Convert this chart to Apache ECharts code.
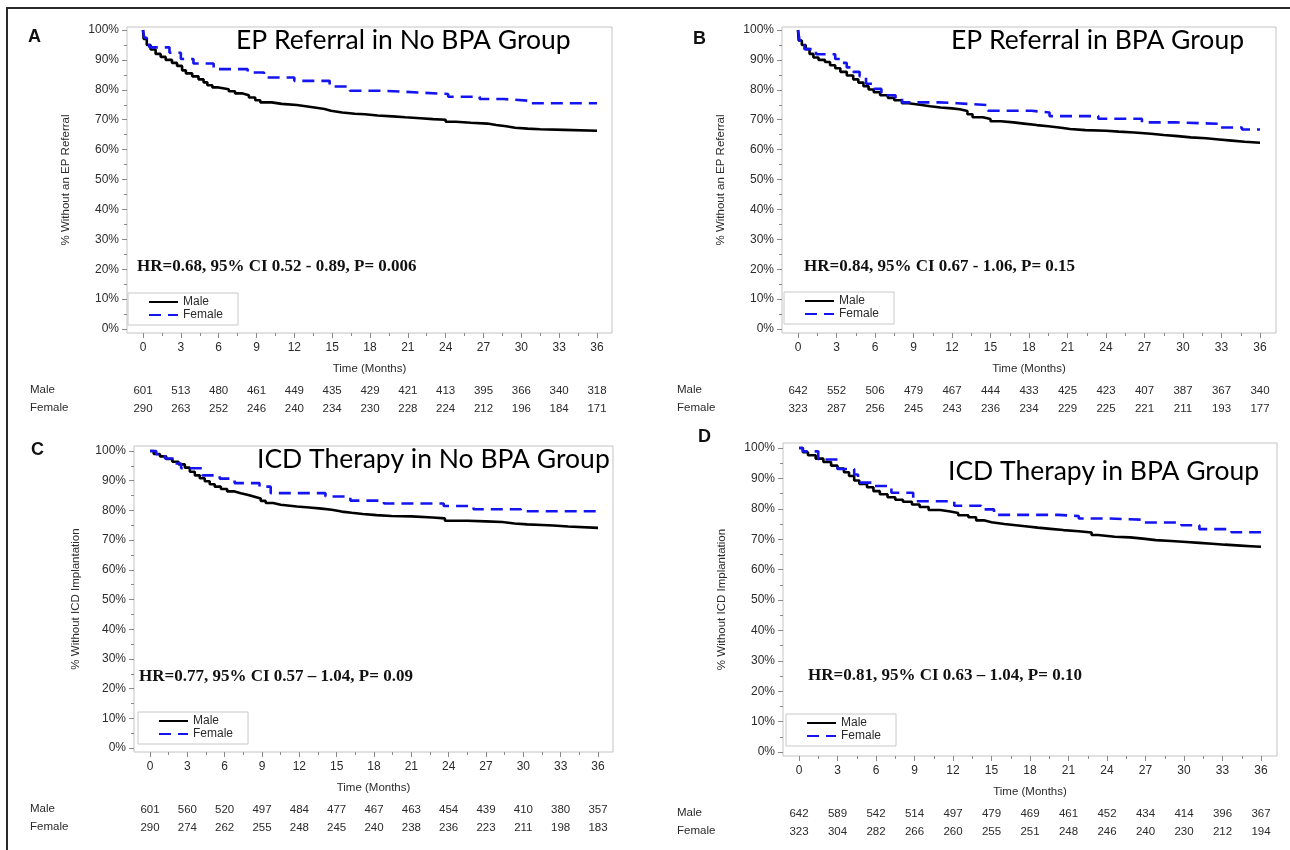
<!DOCTYPE html>
<html>
<head>
<meta charset="utf-8">
<script src="https://cdn.jsdelivr.net/npm/echarts@6/dist/echarts.min.js"></script>
<style>
  html, body { margin: 0; padding: 0; background: #ffffff; }
  #chart { width: 1290px; height: 850px; }
</style>
</head>
<body>
<div id="chart"></div>
<script>
// ---- Tick labels ----
const monthTicks = [0, 3, 6, 9, 12, 15, 18, 21, 24, 27, 30, 33, 36];
const pctTicks = [0, 10, 20, 30, 40, 50, 60, 70, 80, 90, 100];

// ---- Kaplan-Meier estimates: [month, % event-free] ----
const epNoBpaMale = [[0,100],[0.05,97],[0.3,95],[0.6,93.5],[1,92],[1.4,91],[1.8,90],[2.3,89],[2.7,88],[3.1,86.5],[3.4,85.5],[3.9,84.5],[4.4,83.5],[4.8,82.5],[5.1,81.5],[5.5,80.8],[6,80.2],[6.8,79.5],[7.3,78.8],[7.9,78.2],[8.4,77.4],[8.9,76.5],[9.3,75.8],[10.2,75.3],[11,74.9],[12.2,74.5],[12.9,74.1],[13.6,73.6],[14.4,73],[14.9,72.4],[15.8,72],[16.8,71.8],[17.6,71.4],[18.6,71.1],[19.8,70.8],[20.8,70.5],[22,70.2],[23,70],[24,69.3],[24.8,69],[26,68.7],[27.3,68.2],[28,67.8],[28.8,67.3],[29.5,67],[30.5,66.8],[31.5,66.6],[33.4,66.3],[36,66.2]];
const epNoBpaFemale = [[0,100],[0.1,97.4],[0.3,96],[0.5,94.2],[2.1,92.4],[3,90.3],[4,88.8],[5.6,86.9],[8.3,85.8],[9.6,84.1],[12,83],[14.8,81.1],[16.4,79.7],[19,79.1],[21.8,78.6],[24.2,77.7],[26.7,76.9],[28.6,76.3],[30.8,75.5],[36,75.5]];

const epBpaMale = [[0,100],[0.05,96.5],[0.3,95],[0.6,93.6],[0.9,92],[1.2,90.8],[1.6,90],[2.1,89.3],[2.5,88.2],[2.9,87.2],[3.3,86],[3.8,84.8],[4.3,83.5],[4.7,82.4],[5.1,81.2],[5.5,80.1],[5.9,79.2],[6.4,78.2],[7,77.3],[7.5,76.5],[8.1,75.5],[8.6,75],[9.5,74.5],[10.3,74.1],[11.1,73.8],[12,73.5],[12.6,72.9],[13.2,71.8],[13.6,70.8],[14.4,70.2],[15,69.5],[15.8,69.1],[16.8,68.7],[17.6,68.2],[18.6,67.8],[19.5,67.3],[20.5,66.9],[21.2,66.5],[22.4,66.3],[24,66],[25,65.7],[26.2,65.3],[27.5,64.9],[28.5,64.5],[29.6,64.1],[30.6,63.8],[31.8,63.4],[32.8,63],[33.8,62.6],[34.8,62.3],[36,62.2]];
const epBpaFemale = [[0,100],[0.15,95.8],[0.5,93.6],[1.4,91.9],[2.9,90.3],[3.3,89],[3.8,87.5],[4.3,86],[4.8,84.5],[5.3,82],[5.9,80.3],[6.5,78.2],[7.6,77],[8.1,75.8],[11,75.5],[12.4,74.9],[14.8,73],[18.2,72.4],[19.6,71.2],[23.4,70.3],[26.8,69.1],[29.4,68.6],[32.9,67.4],[34.6,66.7],[36,66.7]];

const icdNoBpaMale = [[0,100],[0.3,99],[0.8,98.2],[1.3,97.3],[1.8,96.4],[2.3,95.5],[2.8,94.4],[3.2,93],[3.6,91.8],[4,90.8],[4.4,89.8],[4.8,88.8],[5.2,88],[5.7,87.2],[6.2,86.4],[6.8,85.8],[7.3,85.2],[7.9,84.6],[8.4,84],[8.9,83.2],[9.3,82.5],[9.9,81.9],[10.5,81.3],[11.8,81],[12.8,80.6],[13.8,80.2],[14.6,79.6],[15.4,79.2],[16.2,78.8],[17.1,78.4],[18.2,78.1],[19.4,78],[21,77.6],[22.7,77.3],[23.7,76.5],[25.5,76.3],[27,76.1],[28.3,75.6],[29.3,75.3],[30.3,75.1],[31.5,74.9],[32.4,74.6],[33.6,74.1],[36,73.9]];
const icdNoBpaFemale = [[0,100],[0.5,98.9],[1.2,97.5],[1.9,95.8],[2.5,94.2],[4.2,91.8],[5.6,90.7],[6.8,89.2],[8.8,88],[9.7,85.8],[14.1,84.7],[16.1,83.3],[18.8,82.3],[23.6,81.5],[26,80.4],[29.8,79.7],[36,79.6]];

const icdBpaMale = [[0,100],[0.3,98.6],[0.7,97.6],[1.3,96.5],[1.9,95.4],[2.5,94.2],[3,93.2],[3.5,92],[3.9,90.8],[4.3,89.3],[4.7,88.2],[5.3,87.1],[5.8,85.8],[6.3,84.8],[6.9,83.8],[7.5,83],[8.1,82.3],[8.8,81.4],[9.4,80.6],[10.1,79.6],[11,79.1],[11.8,78.6],[12.4,77.9],[13.2,77.2],[13.8,76.2],[14.4,75.6],[15,75],[16,74.6],[16.9,74.2],[17.8,73.8],[18.6,73.4],[19.6,73],[20.6,72.6],[21.8,72.2],[22.8,71.4],[23.3,70.8],[24.6,70.6],[25.8,70.2],[26.8,69.7],[27.8,69.4],[29,69.1],[30.2,68.8],[31.2,68.5],[32.2,68.2],[33.2,67.9],[34.4,67.7],[35.2,67.5],[36,67.5]];
const icdBpaFemale = [[0,100],[0.3,98.9],[1.5,96.2],[3,93.1],[4.3,91.3],[4.6,88.6],[5.7,87.5],[7.2,85.3],[8.9,82.5],[12.1,81],[14.2,79.8],[15.2,78],[20.2,77.6],[21.8,76.8],[24.2,76.4],[26.8,75.5],[29.8,74.6],[31.2,73.3],[33.7,72.3],[36,72.3]];

// ---- Numbers at risk ----
const epNoBpaMaleRisk   = [601, 513, 480, 461, 449, 435, 429, 421, 413, 395, 366, 340, 318];
const epNoBpaFemaleRisk = [290, 263, 252, 246, 240, 234, 230, 228, 224, 212, 196, 184, 171];
const epBpaMaleRisk     = [642, 552, 506, 479, 467, 444, 433, 425, 423, 407, 387, 367, 340];
const epBpaFemaleRisk   = [323, 287, 256, 245, 243, 236, 234, 229, 225, 221, 211, 193, 177];
const icdNoBpaMaleRisk   = [601, 560, 520, 497, 484, 477, 467, 463, 454, 439, 410, 380, 357];
const icdNoBpaFemaleRisk = [290, 274, 262, 255, 248, 245, 240, 238, 236, 223, 211, 198, 183];
const icdBpaMaleRisk     = [642, 589, 542, 514, 497, 479, 469, 461, 452, 434, 414, 396, 367];
const icdBpaFemaleRisk   = [323, 304, 282, 266, 260, 255, 251, 248, 246, 240, 230, 212, 194];

// ---- Panel texts ----
const panelLetters = ['A', 'B', 'C', 'D'];
const panelTitles = ['EP Referral in No BPA Group', 'EP Referral in BPA Group',
                     'ICD Therapy in No BPA Group', 'ICD Therapy in BPA Group'];
const yAxisTitles = ['% Without an EP Referral', '% Without an EP Referral',
                     '% Without ICD Implantation', '% Without ICD Implantation'];
const hrTexts = ['HR=0.68, 95% CI 0.52 - 0.89, P= 0.006',
                 'HR=0.84, 95% CI 0.67 - 1.06, P= 0.15',
                 'HR=0.77, 95% CI 0.57 \u2013 1.04, P= 0.09',
                 'HR=0.81, 95% CI 0.63 \u2013 1.04, P= 0.10'];
const groupNames = ['Male', 'Female'];

const panelData = [
  { male: epNoBpaMale,  female: epNoBpaFemale,  maleRisk: epNoBpaMaleRisk,  femaleRisk: epNoBpaFemaleRisk },
  { male: epBpaMale,    female: epBpaFemale,    maleRisk: epBpaMaleRisk,    femaleRisk: epBpaFemaleRisk },
  { male: icdNoBpaMale, female: icdNoBpaFemale, maleRisk: icdNoBpaMaleRisk, femaleRisk: icdNoBpaFemaleRisk },
  { male: icdBpaMale,   female: icdBpaFemale,   maleRisk: icdBpaMaleRisk,   femaleRisk: icdBpaFemaleRisk }
];

// ---- Layout (pixels) ----
// plot: where 0..36 months and 0..100 % fall; frame: the boxed plot area around it
const layout = [
  { plot: [143, 30, 597, 329], frame: [127, 27, 612, 333], letter: [35, 38], title: [236, 44],
    hr: [137, 268], legend: [128, 293], yName: 55, rowX: 30, rows: [391, 409] },
  { plot: [798, 30, 1260, 329], frame: [782, 27, 1276, 333], letter: [700, 40], title: [951, 44],
    hr: [804, 268], legend: [784, 292], yName: 55, rowX: 677, rows: [391, 409] },
  { plot: [150, 451, 598, 748], frame: [134, 446, 613, 752], letter: [38, 451], title: [257, 463],
    hr: [139, 678], legend: [138, 712], yName: 52, rowX: 30, rows: [810, 828] },
  { plot: [799, 448, 1261, 752], frame: [783, 443, 1277, 756], letter: [705, 438], title: [948, 475],
    hr: [808, 677], legend: [786, 714], yName: 55, rowX: 677, rows: [814, 832] }
];

const SANS = '"Liberation Sans", Arial, sans-serif';
const TICK_COLOR = '#8a8a8a';
const TEXT_COLOR = '#2b2b2b';
const MALE_COLOR = '#000000';
const FEMALE_COLOR = '#1414f0';

const midpoints = arr => arr.slice(1).map((v, k) => (v + arr[k]) / 2);
const monthMinor = midpoints(monthTicks);
const pctMinor = midpoints(pctTicks);

const grids = [], xAxes = [], yAxes = [], series = [], legends = [], graphics = [];

layout.forEach((L, i) => {
  const D = panelData[i];
  const [pl, pt, pr, pb] = L.plot;
  const [fl, ft, fr, fb] = L.frame;
  const xLo = monthTicks[0], xHi = monthTicks[monthTicks.length - 1];
  const yLo = pctTicks[0], yHi = pctTicks[pctTicks.length - 1];

  // axis extents padded so the data range sits inside the boxed frame
  const pxX = (pr - pl) / (xHi - xLo);
  const pxY = (pb - pt) / (yHi - yLo);
  const xMin = xLo - (pl - fl) / pxX, xMax = xHi + (fr - pr) / pxX;
  const yMin = yLo - (fb - pb) / pxY, yMax = yHi + (pt - ft) / pxY;

  const g = grids.length;
  grids.push({ left: fl, top: ft, width: fr - fl, height: fb - ft, show: true,
               borderColor: '#c4c4c4', borderWidth: 1, backgroundColor: 'transparent' });

  const baseX = { gridIndex: g, type: 'value', position: 'bottom', min: xMin, max: xMax,
                  axisLine: { show: false, onZero: false }, splitLine: { show: false } };
  const baseY = { gridIndex: g, type: 'value', position: 'left', min: yMin, max: yMax,
                  axisLine: { show: false, onZero: false }, splitLine: { show: false } };

  // major x ticks + labels + axis name
  const xIdx = xAxes.length;
  xAxes.push(Object.assign({}, baseX, {
    axisTick: { show: true, length: 5, customValues: monthTicks, lineStyle: { color: TICK_COLOR } },
    axisLabel: { margin: 9, fontSize: 12, fontFamily: SANS, color: TEXT_COLOR, customValues: monthTicks },
    name: 'Time (Months)', nameLocation: 'middle', nameGap: 30,
    nameTextStyle: { fontSize: 11.5, fontFamily: SANS, color: TEXT_COLOR }
  }));
  // minor x ticks
  xAxes.push(Object.assign({}, baseX, {
    axisTick: { show: true, length: 3, customValues: monthMinor, lineStyle: { color: TICK_COLOR } },
    axisLabel: { show: false }
  }));
  // numbers-at-risk rows as label-only axes
  [D.maleRisk, D.femaleRisk].forEach((risk, r) => {
    xAxes.push(Object.assign({}, baseX, {
      offset: L.rows[r] - fb,
      axisTick: { show: false },
      axisLabel: { margin: 0, verticalAlign: 'middle', fontSize: 11.5, fontFamily: SANS, color: TEXT_COLOR,
                   customValues: monthTicks, formatter: v => String(risk[monthTicks.indexOf(v)]) }
    }));
    graphics.push({ type: 'text', left: L.rowX, top: L.rows[r] - 7,
      style: { text: groupNames[r], font: '11.5px ' + SANS, fill: TEXT_COLOR } });
  });

  // major y ticks + labels + axis name
  const yIdx = yAxes.length;
  yAxes.push(Object.assign({}, baseY, {
    axisTick: { show: true, length: 5, customValues: pctTicks, lineStyle: { color: TICK_COLOR } },
    axisLabel: { margin: 8, fontSize: 12, fontFamily: SANS, color: TEXT_COLOR,
                 customValues: pctTicks, formatter: v => v + '%' },
    name: yAxisTitles[i], nameLocation: 'middle', nameRotate: 90, nameGap: L.yName,
    nameTextStyle: { fontSize: 11.5, fontFamily: SANS, color: TEXT_COLOR }
  }));
  // minor y ticks
  yAxes.push(Object.assign({}, baseY, {
    axisTick: { show: true, length: 3, customValues: pctMinor, lineStyle: { color: TICK_COLOR } },
    axisLabel: { show: false }
  }));

  series.push({
    type: 'line', name: groupNames[0], xAxisIndex: xIdx, yAxisIndex: yIdx,
    data: D.male, step: 'end', symbol: 'none', z: 3, silent: true,
    lineStyle: { color: MALE_COLOR, width: 2.6 }, itemStyle: { color: MALE_COLOR }
  });
  series.push({
    type: 'line', name: groupNames[1], xAxisIndex: xIdx, yAxisIndex: yIdx,
    data: D.female, step: 'end', symbol: 'none', z: 4, silent: true,
    lineStyle: { color: FEMALE_COLOR, width: 2.6, type: [12, 7] }, itemStyle: { color: FEMALE_COLOR }
  });

  legends.push({
    left: L.legend[0], top: L.legend[1], orient: 'vertical', data: groupNames,
    selectedMode: false, borderColor: '#c8c8c8', borderWidth: 1, borderRadius: 0,
    padding: [3, 15, 4, 20], itemGap: 1, itemWidth: 29, itemHeight: 14,
    itemStyle: { color: 'rgba(0,0,0,0)', borderColor: 'rgba(0,0,0,0)', borderWidth: 0, opacity: 0 },
    textStyle: { fontSize: 12, fontFamily: SANS, color: TEXT_COLOR }
  });

  // panel letter, title and hazard ratio text
  graphics.push({ type: 'text', left: L.letter[0] - 7, top: L.letter[1] - 10,
    style: { text: panelLetters[i], font: 'bold 18px ' + SANS, fill: '#111' } });
  graphics.push({ type: 'text', left: L.title[0], top: L.title[1] - 17,
    style: { text: panelTitles[i], font: '26.5px Lato, "Open Sans", sans-serif', fill: '#000' } });
  graphics.push({ type: 'text', left: L.hr[0], top: L.hr[1] - 10,
    style: { text: hrTexts[i], font: 'bold 17px "Liberation Serif", "Times New Roman", serif', fill: '#111' } });
});

// outer figure border
graphics.push({ type: 'rect', shape: { x: 7, y: 8, width: 1400, height: 1000 }, z: 100,
  style: { fill: 'none', stroke: '#2a2a2a', lineWidth: 2 } });

const chart = echarts.init(document.getElementById('chart'), null, { renderer: 'canvas' });
chart.setOption({
  animation: false,
  backgroundColor: '#ffffff',
  grid: grids,
  xAxis: xAxes,
  yAxis: yAxes,
  legend: legends,
  series: series,
  graphic: graphics
});
</script>
</body>
</html>
